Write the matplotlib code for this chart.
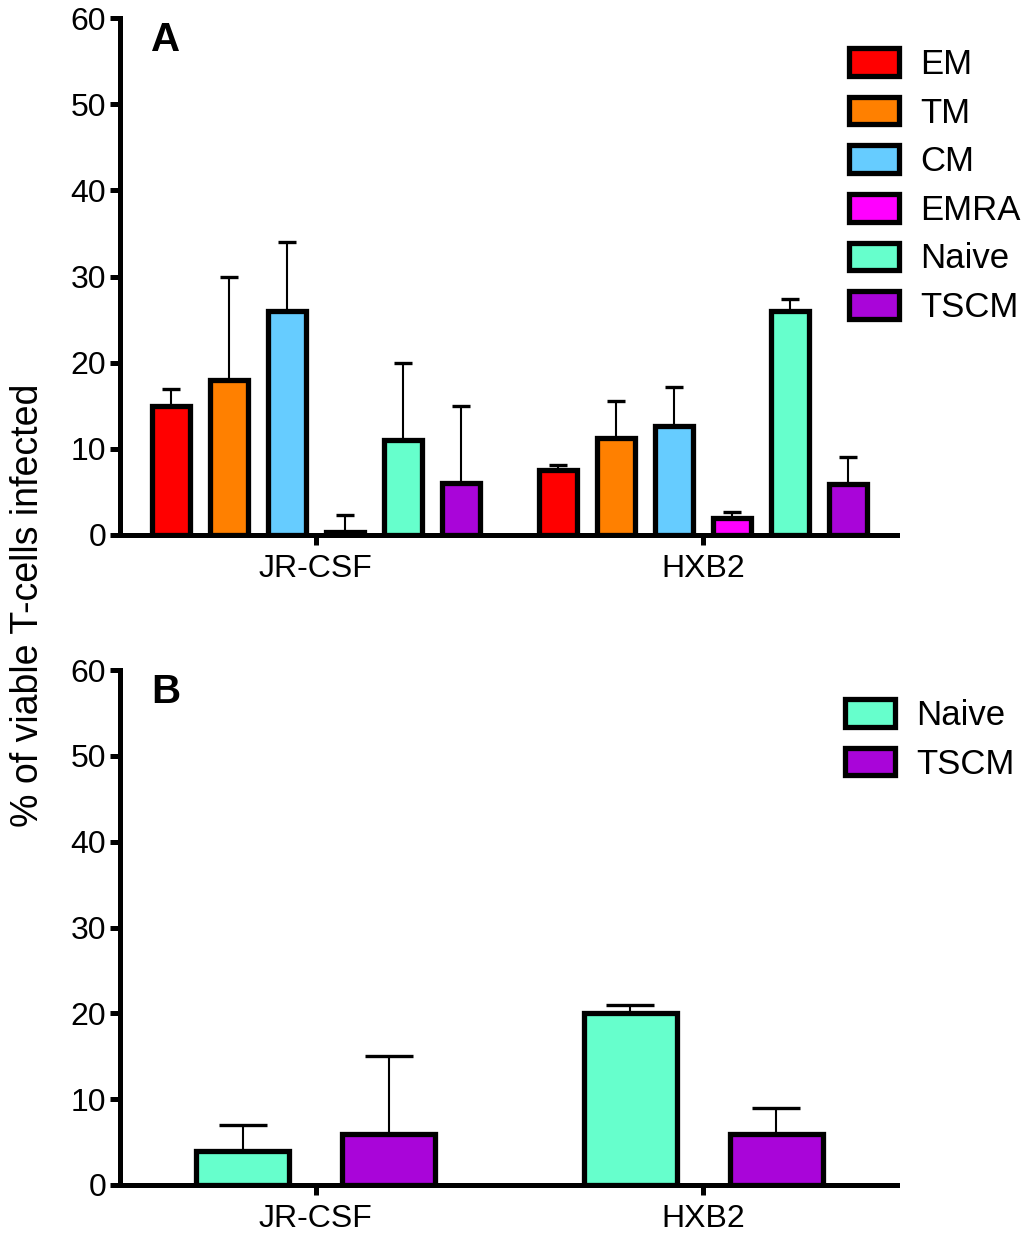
import matplotlib
matplotlib.use("Agg")
import matplotlib.pyplot as plt
from matplotlib.patches import Patch
import numpy as np

plt.rcParams['font.family'] = ['Liberation Sans', 'DejaVu Sans']

groups = ["JR-CSF", "HXB2"]
subsets_a = ["EM", "TM", "CM", "EMRA", "Naive", "TSCM"]
colors_a = ["#ff0000", "#ff8000", "#66ccff", "#ff00ff", "#66ffcc", "#a905d9"]
means_a = {
    "JR-CSF": [15.0, 18.0, 26.0, 0.4, 11.0, 6.0],
    "HXB2":   [7.5, 11.3, 12.6, 2.0, 26.0, 5.9],
}
err_a = {
    "JR-CSF": [2.0, 12.0, 8.0, 1.9, 9.0, 9.0],
    "HXB2":   [0.6, 4.3, 4.6, 0.7, 1.4, 3.1],
}

subsets_b = ["Naive", "TSCM"]
colors_b = ["#66ffcc", "#a905d9"]
means_b = {
    "JR-CSF": [4.0, 6.0],
    "HXB2":   [20.0, 6.0],
}
err_b = {
    "JR-CSF": [3.0, 9.0],
    "HXB2":   [1.0, 3.0],
}
yticks = [0, 10, 20, 30, 40, 50, 60]

W, H = 1024, 1235
fig = plt.figure(figsize=(W / 100, H / 100), dpi=100)

def ax_rect(l, t, r, b):
    return [l / W, 1 - b / H, (r - l) / W, (b - t) / H]

ax_a = fig.add_axes(ax_rect(120, 18, 897, 535))
ax_b = fig.add_axes(ax_rect(120, 670, 897, 1185))

edge_lw = 3.8
spine_lw = 3.6
fs = 23

def style(ax):
    for s in ["top", "right"]:
        ax.spines[s].set_visible(False)
    for s in ["left", "bottom"]:
        ax.spines[s].set_linewidth(spine_lw)
    ax.set_ylim(0, 60)
    ax.set_yticks(yticks)
    ax.set_xlim(-0.505, 1.5)
    ax.set_xticks(range(len(groups)))
    ax.set_xticklabels(groups)
    ax.tick_params(axis='y', length=7, width=spine_lw, labelsize=fs, direction='out', pad=3)
    ax.tick_params(axis='x', length=7.5, width=spine_lw, labelsize=fs, direction='out', pad=6)

# Panel A
pitch_a = 0.1495
width_a = 0.098
for gi, g in enumerate(groups):
    for si, s in enumerate(subsets_a):
        x = gi + (si - 2.5) * pitch_a
        ax_a.errorbar([x], [means_a[g][si]], yerr=[[0], [err_a[g][si]]], fmt='none',
                      ecolor='black', elinewidth=1.5, capsize=6.5, capthick=2.4, zorder=1)
        ax_a.bar([x], [means_a[g][si]], width=width_a, color=colors_a[si],
                 edgecolor='black', linewidth=edge_lw, zorder=2)
style(ax_a)
ax_a.text(0.04, 0.995, "A", transform=ax_a.transAxes, fontsize=29, fontweight='bold',
          va='top', ha='left')
leg_kw = dict(frameon=False, fontsize=25, handlelength=1.45, handleheight=0.85,
              labelspacing=0.45, borderpad=0, handletextpad=0.6, borderaxespad=0,
              loc='upper left')
handles_a = [Patch(facecolor=c, edgecolor='black', linewidth=edge_lw, label=s)
             for s, c in zip(subsets_a, colors_a)]
fig.legend(handles=handles_a, bbox_to_anchor=(849 / W, 1 - 48 / H), **leg_kw)

# Panel B
off_b = 0.188
width_b = 0.24
for gi, g in enumerate(groups):
    for si, s in enumerate(subsets_b):
        x = gi + (si - 0.5) * 2 * off_b
        ax_b.errorbar([x], [means_b[g][si]], yerr=[[0], [err_b[g][si]]], fmt='none',
                      ecolor='black', elinewidth=1.5, capsize=17, capthick=2.4, zorder=1)
        ax_b.bar([x], [means_b[g][si]], width=width_b, color=colors_b[si],
                 edgecolor='black', linewidth=edge_lw, zorder=2)
style(ax_b)
ax_b.text(0.04, 0.995, "B", transform=ax_b.transAxes, fontsize=29, fontweight='bold',
          va='top', ha='left')
handles_b = [Patch(facecolor=c, edgecolor='black', linewidth=edge_lw, label=s)
             for s, c in zip(subsets_b, colors_b)]
fig.legend(handles=handles_b, bbox_to_anchor=(845 / W, 1 - 699 / H), **leg_kw)

fig.text(28 / W, 1 - 605 / H, "% of viable T-cells infected", rotation=90,
         fontsize=27, ha='center', va='center')

fig.savefig("out.png", dpi=100)
